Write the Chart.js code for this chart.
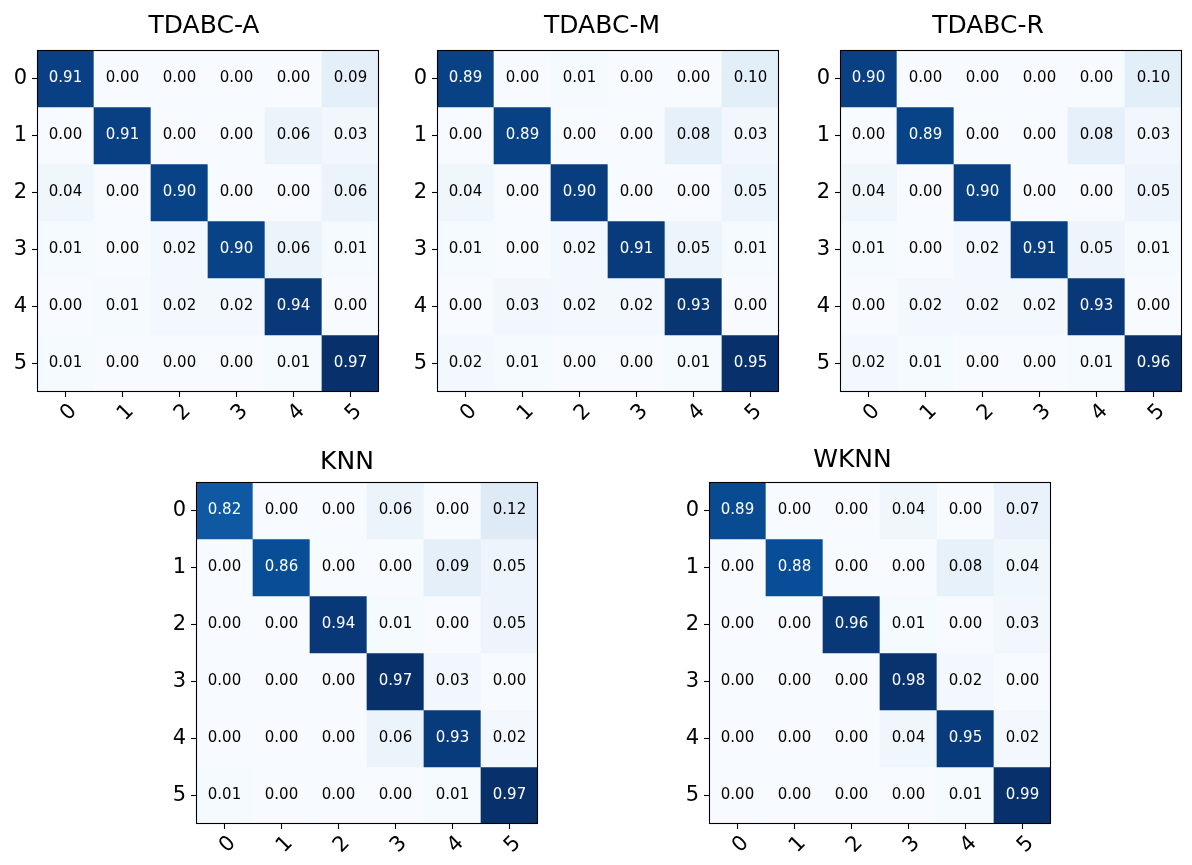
<!DOCTYPE html>
<html>
<head>
<meta charset="utf-8">
<script src="https://cdn.jsdelivr.net/npm/chart.js@4.4.1/dist/chart.umd.min.js"></script>
<style>
  body { margin: 0; background: #fff; width: 1192px; height: 865px; position: relative; overflow: hidden; }
  canvas { position: absolute; }
</style>
</head>
<body>
<canvas id="cmA" width="402" height="440"></canvas>
<canvas id="cmM" width="402" height="440"></canvas>
<canvas id="cmR" width="402" height="440"></canvas>
<canvas id="cmKNN" width="402" height="440"></canvas>
<canvas id="cmWKNN" width="402" height="440"></canvas>
<script>
const classLabels = ['0', '1', '2', '3', '4', '5'];

// rows = true class, columns = predicted class
const tdabcA = [
  [0.91, 0.00, 0.00, 0.00, 0.00, 0.09],
  [0.00, 0.91, 0.00, 0.00, 0.06, 0.03],
  [0.04, 0.00, 0.90, 0.00, 0.00, 0.06],
  [0.01, 0.00, 0.02, 0.90, 0.06, 0.01],
  [0.00, 0.01, 0.02, 0.02, 0.94, 0.00],
  [0.01, 0.00, 0.00, 0.00, 0.01, 0.97]
];
const tdabcM = [
  [0.89, 0.00, 0.01, 0.00, 0.00, 0.10],
  [0.00, 0.89, 0.00, 0.00, 0.08, 0.03],
  [0.04, 0.00, 0.90, 0.00, 0.00, 0.05],
  [0.01, 0.00, 0.02, 0.91, 0.05, 0.01],
  [0.00, 0.03, 0.02, 0.02, 0.93, 0.00],
  [0.02, 0.01, 0.00, 0.00, 0.01, 0.95]
];
const tdabcR = [
  [0.90, 0.00, 0.00, 0.00, 0.00, 0.10],
  [0.00, 0.89, 0.00, 0.00, 0.08, 0.03],
  [0.04, 0.00, 0.90, 0.00, 0.00, 0.05],
  [0.01, 0.00, 0.02, 0.91, 0.05, 0.01],
  [0.00, 0.02, 0.02, 0.02, 0.93, 0.00],
  [0.02, 0.01, 0.00, 0.00, 0.01, 0.96]
];
const knn = [
  [0.82, 0.00, 0.00, 0.06, 0.00, 0.12],
  [0.00, 0.86, 0.00, 0.00, 0.09, 0.05],
  [0.00, 0.00, 0.94, 0.01, 0.00, 0.05],
  [0.00, 0.00, 0.00, 0.97, 0.03, 0.00],
  [0.00, 0.00, 0.00, 0.06, 0.93, 0.02],
  [0.01, 0.00, 0.00, 0.00, 0.01, 0.97]
];
const wknn = [
  [0.89, 0.00, 0.00, 0.04, 0.00, 0.07],
  [0.00, 0.88, 0.00, 0.00, 0.08, 0.04],
  [0.00, 0.00, 0.96, 0.01, 0.00, 0.03],
  [0.00, 0.00, 0.00, 0.98, 0.02, 0.00],
  [0.00, 0.00, 0.00, 0.04, 0.95, 0.02],
  [0.00, 0.00, 0.00, 0.00, 0.01, 0.99]
];

const FONT = 'DejaVu Sans';

// matplotlib "Blues"
const bluesStops = ['#f7fbff', '#deebf7', '#c6dbef', '#9ecae1', '#6baed6', '#4292c6', '#2171b5', '#08519c', '#08306b'];
function hexToRgb(h) {
  return [parseInt(h.slice(1, 3), 16), parseInt(h.slice(3, 5), 16), parseInt(h.slice(5, 7), 16)];
}
function blues(t) {
  t = Math.max(0, Math.min(1, t));
  const pos = t * (bluesStops.length - 1);
  const i = Math.min(Math.floor(pos), bluesStops.length - 2);
  const f = pos - i;
  const a = hexToRgb(bluesStops[i]), b = hexToRgb(bluesStops[i + 1]);
  const c = a.map((v, k) => Math.round(v + (b[k] - v) * f));
  return 'rgb(' + c.join(',') + ')';
}

// page placement of each panel: plot box left/top, title centre and baseline
const panels = [
  { id: 'cmA', title: 'TDABC-A', matrix: tdabcA, plotLeft: 37, plotTop: 50, titleX: 204, titleY: 32.5 },
  { id: 'cmM', title: 'TDABC-M', matrix: tdabcM, plotLeft: 437, plotTop: 50, titleX: 602, titleY: 32.5 },
  { id: 'cmR', title: 'TDABC-R', matrix: tdabcR, plotLeft: 840, plotTop: 50, titleX: 988, titleY: 32.5 },
  { id: 'cmKNN', title: 'KNN', matrix: knn, plotLeft: 196, plotTop: 482, titleX: 347, titleY: 469 },
  { id: 'cmWKNN', title: 'WKNN', matrix: wknn, plotLeft: 709, plotTop: 482, titleX: 852.5, titleY: 467 }
];

const Y_AXIS_W = 40;
const TOP_SPACE = 51;
const PLOT = 342;

const confusionPlugin = {
  id: 'confusion',
  afterDatasetsDraw(chart, args, opts) {
    const ctx = chart.ctx;
    const m = opts.matrix;
    const vmax = Math.max(...m.flat());
    ctx.save();
    ctx.font = '15px "' + FONT + '"';
    ctx.textAlign = 'center';
    ctx.textBaseline = 'middle';
    chart.data.datasets.forEach((ds, i) => {
      chart.getDatasetMeta(i).data.forEach((bar, j) => {
        const v = m[i][j];
        ctx.fillStyle = v > vmax / 2 ? '#ffffff' : '#000000';
        ctx.fillText(v.toFixed(2), bar.x, (bar.y + bar.base) / 2);
      });
    });
    // frame
    const a = chart.chartArea;
    ctx.strokeStyle = '#000';
    ctx.lineWidth = 1.1;
    ctx.strokeRect(a.left + 0.5, a.top + 0.5, a.right - a.left - 1, a.bottom - a.top - 1);
    // title
    ctx.font = '25px "' + FONT + '"';
    ctx.textBaseline = 'alphabetic';
    ctx.fillStyle = '#000';
    ctx.fillText(opts.title, opts.titleX, opts.titleY);
    ctx.restore();
  }
};

panels.forEach(p => {
  const canvas = document.getElementById(p.id);
  const left = p.plotLeft - Y_AXIS_W;
  const top = p.plotTop - TOP_SPACE;
  canvas.style.left = left + 'px';
  canvas.style.top = top + 'px';

  const m = p.matrix;
  const flat = m.flat();
  const vmin = Math.min(...flat), vmax = Math.max(...flat);

  const datasets = m.map((row, i) => ({
    label: classLabels[i],
    data: row.map(() => 1),
    backgroundColor: row.map(v => blues((v - vmin) / (vmax - vmin))),
    borderWidth: 0,
    barPercentage: 1,
    categoryPercentage: 1
  }));

  const tickGrid = { drawOnChartArea: false, tickLength: 5, tickColor: '#000', tickWidth: 1.1 };

  new Chart(canvas, {
    type: 'bar',
    data: { labels: classLabels, datasets: datasets },
    options: {
      responsive: false,
      animation: false,
      devicePixelRatio: 1,
      layout: { padding: { top: TOP_SPACE, right: canvas.width - Y_AXIS_W - PLOT, left: 0, bottom: 0 } },
      plugins: {
        legend: { display: false },
        tooltip: { enabled: false },
        title: { display: false },
        confusion: { matrix: m, title: p.title, titleX: p.titleX - left, titleY: p.titleY - top }
      },
      scales: {
        x: {
          stacked: true,
          offset: true,
          grid: Object.assign({ offset: false }, tickGrid),
          border: { display: false },
          ticks: {
            color: '#000', font: { family: FONT, size: 21 },
            minRotation: 45, maxRotation: 45, autoSkip: false,
            padding: 2, labelOffset: 8
          },
          afterFit: s => { s.height = canvas.height - TOP_SPACE - PLOT; }
        },
        y: {
          stacked: true,
          min: 0,
          max: 6,
          reverse: true,
          grid: tickGrid,
          border: { display: false },
          ticks: {
            color: '#000', font: { family: FONT, size: 21 }, padding: 5,
            callback: v => classLabels[v - 0.5]
          },
          afterBuildTicks: s => { s.ticks = classLabels.map((c, i) => ({ value: i + 0.5 })); },
          afterFit: s => { s.width = Y_AXIS_W; }
        }
      }
    },
    plugins: [confusionPlugin]
  });
});
</script>
</body>
</html>
